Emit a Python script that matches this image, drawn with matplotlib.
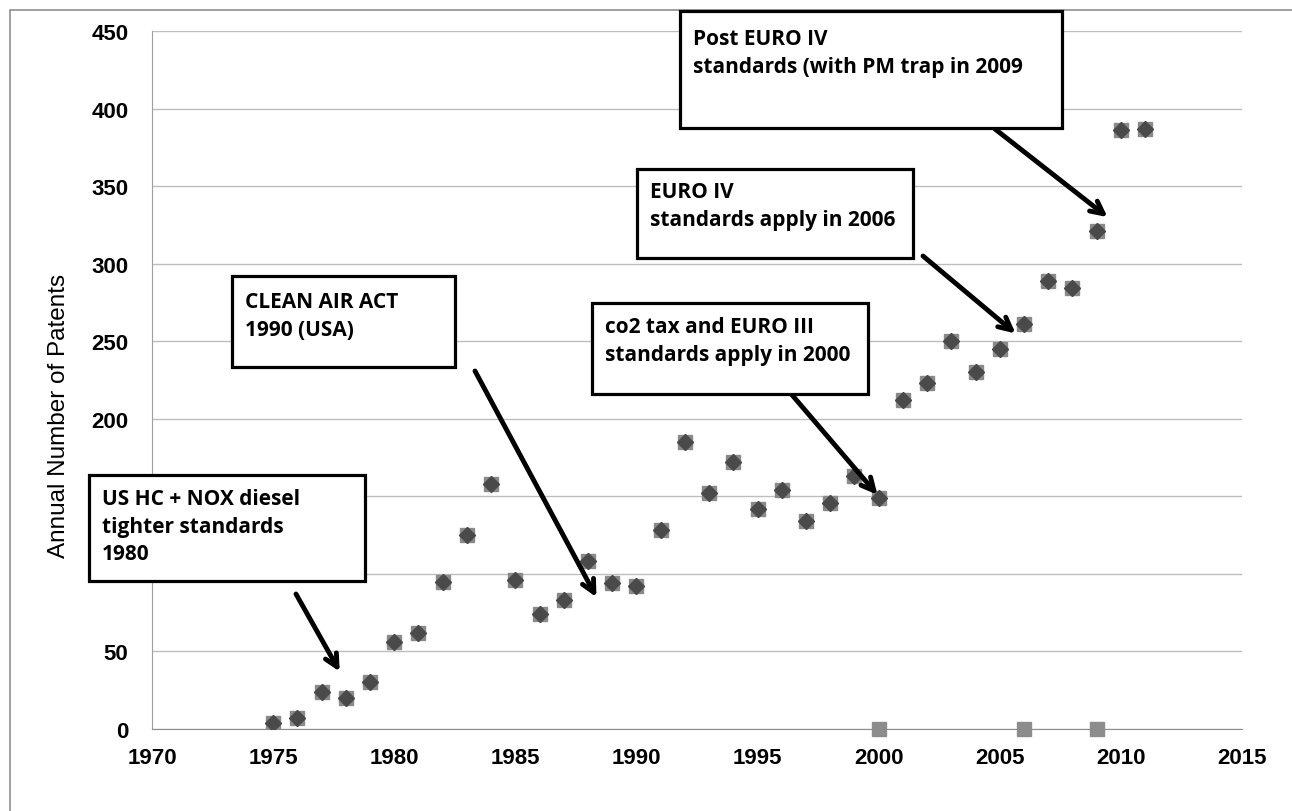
import matplotlib.pyplot as plt
from matplotlib.patches import Rectangle

W, H = 1292, 812

years = [1975, 1976, 1977, 1978, 1979, 1980, 1981, 1982, 1983, 1984,
         1985, 1986, 1987, 1988, 1989, 1990, 1991, 1992, 1993, 1994,
         1995, 1996, 1997, 1998, 1999, 2000, 2001, 2002, 2003, 2004,
         2005, 2006, 2007, 2008, 2009, 2010, 2011]
patents = [4, 7, 24, 20, 30, 56, 62, 95, 125, 158,
           96, 74, 83, 108, 94, 92, 128, 185, 152, 172,
           142, 154, 134, 146, 163, 149, 212, 223, 250, 230,
           245, 261, 289, 284, 321, 386, 387]
event_years = [2000, 2006, 2009]
event_vals = [0, 0, 0]

notes = [
    "US HC + NOX diesel\ntighter standards\n1980",
    "CLEAN AIR ACT\n1990 (USA)",
    "co2 tax and EURO III\nstandards apply in 2000",
    "EURO IV\nstandards apply in 2006",
    "Post EURO IV\nstandards (with PM trap in 2009",
]
# box: left, top, right, bottom in pixels (from top-left)
boxes = [(89, 476, 365, 582), (232, 277, 455, 368), (592, 304, 868, 395),
         (637, 170, 913, 259), (680, 12, 1062, 129)]
text_offsets = [13, 15, 13, 12, 17]
arrow_tails = [(296, 595), (475, 372), (769, 369), (923, 257), (995, 130)]
arrow_tips = [(1977.75, 37), (1988.35, 85), (1999.95, 151), (2005.65, 255), (2009.45, 330)]

def fx(px):
    return px / W

def fy(py):
    return 1 - py / H

fig = plt.figure(figsize=(W / 100, H / 100), dpi=100)
ax = fig.add_axes([fx(152), fy(730), fx(1242) - fx(152), fy(32) - fy(730)])

ax.plot(years, patents, 's', color='#8a8a8a', ms=10, zorder=3)
ax.plot(event_years, event_vals, 's', color='#8c8c8c', ms=10.5, zorder=3, clip_on=False)
ax.plot(years, patents, 'D', color='#4a4a4a', ms=8.5, zorder=4)

ax.set_xlim(1970, 2015)
ax.set_ylim(0, 450)
ax.set_xticks(range(1970, 2016, 5))
ax.set_yticks(range(0, 451, 50))
ax.grid(axis='y', color='#bdbdbd', lw=1)
ax.set_axisbelow(True)
for s in ['top', 'right']:
    ax.spines[s].set_visible(False)
ax.spines['left'].set_color('#a0a0a0')
ax.spines['bottom'].set_color('#8c8c8c')
ax.tick_params(length=0, labelsize=16)
ax.tick_params(axis='y', pad=17)
ax.tick_params(axis='x', pad=13)
for lab in ax.get_xticklabels() + ax.get_yticklabels():
    lab.set_fontweight('bold')
    lab.set_fontfamily('Liberation Sans')
ax.set_ylabel('Annual Number of Patents', fontsize=17.5, family='Liberation Sans')
ax.yaxis.set_label_coords(-0.075, 0.45)

# outer frame
fig.patches.append(Rectangle((fx(10), -0.1), 1.2, fy(11) + 0.1, transform=fig.transFigure,
                             fill=False, ec='#909090', lw=1.2, zorder=0))

for text, (l, t, r, b), off, tail, tip in zip(notes, boxes, text_offsets, arrow_tails, arrow_tips):
    fig.patches.append(Rectangle((fx(l), fy(b)), fx(r) - fx(l), fy(t) - fy(b),
                                 transform=fig.transFigure, fc='white', ec='black',
                                 lw=2.3, zorder=10))
    fig.text(fx(l + 13), fy(t + off), text, ha='left', va='top', fontsize=15,
             fontweight='bold', family='Open Sans', linespacing=1.42, zorder=11)
    ax.annotate('', xy=tip, xycoords='data', xytext=(fx(tail[0]), fy(tail[1])),
                textcoords='figure fraction',
                arrowprops=dict(arrowstyle='->,head_length=0.9,head_width=0.45',
                                color='black', lw=3.5, shrinkA=0, shrinkB=0),
                zorder=12, annotation_clip=False)

fig.savefig('out.png', dpi=100)
